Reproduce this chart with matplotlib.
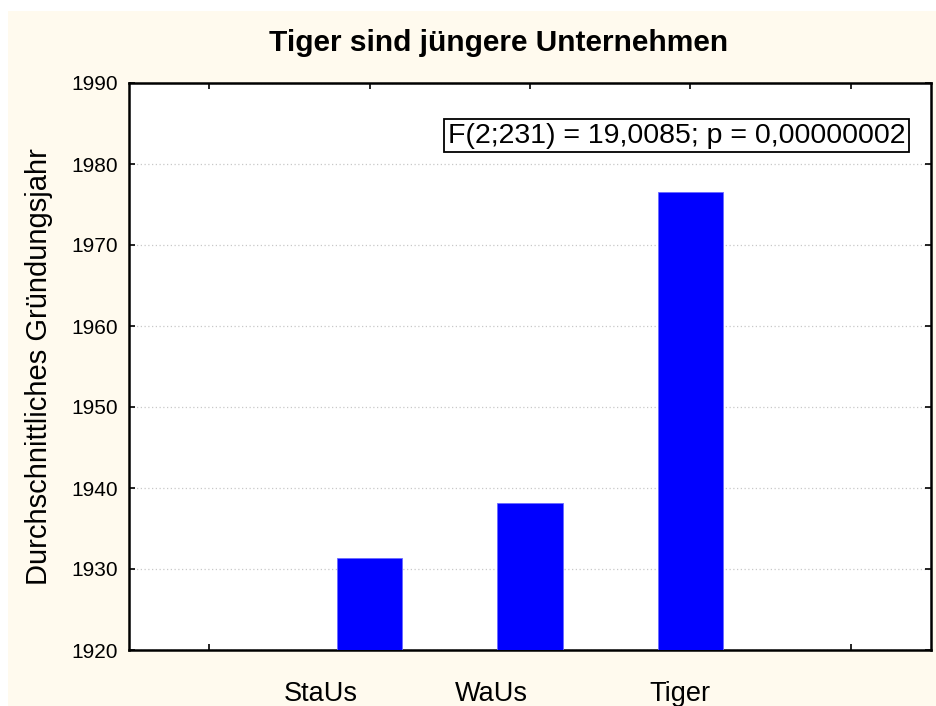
import matplotlib
matplotlib.use('Agg')
import matplotlib.pyplot as plt
import matplotlib.transforms as mtransforms
from matplotlib.patches import Rectangle

# data
groups = ['StaUs', 'WaUs', 'Tiger']
mean_year = [1931.4, 1938.2, 1976.5]
y_ticks = [1920, 1930, 1940, 1950, 1960, 1970, 1980, 1990]
stat_text = 'F(2;231) = 19,0085; p = 0,00000002'

plt.rcParams['font.family'] = ['Liberation Sans', 'DejaVu Sans']

fig = plt.figure(figsize=(9.36, 7.06), dpi=100, facecolor='white')
# cream panel behind everything
fig.patches.append(Rectangle((8 / 936, 0), 1, 1 - 11 / 706, transform=fig.transFigure,
                             facecolor='#fffaee', edgecolor='none', zorder=-10))

ax = fig.add_axes([129 / 936, 1 - 650 / 706, 802 / 936, 567 / 706])
ax.set_facecolor('white')

pos = list(range(1, len(groups) + 1))
ax.bar(pos, mean_year, width=0.41, bottom=0, color='#0000ff', edgecolor='#6a6aff',
       linewidth=0.6, zorder=3)

ax.set_xlim(-0.5, len(groups) + 1.5)
ax.set_ylim(y_ticks[0], y_ticks[-1])
ax.set_yticks(y_ticks)
ax.set_xticks(range(0, len(groups) + 2))
ax.set_xticklabels([''] + groups + [''])

ax.yaxis.grid(True, linestyle=(0, (1, 2)), color='#c8c8c8', linewidth=0.9, zorder=0)
ax.tick_params(direction='in', length=4, width=1.2, top=True, right=True,
               labelsize=15, colors='black')
ax.tick_params(axis='y', pad=8)
ax.tick_params(axis='x', pad=22, labelsize=19.5)

# statistica-style label placement (shifted left of the bar centres)
shifts = [0, -49, -39, -10, 0]
for lab, dx in zip(ax.get_xticklabels(), shifts):
    lab.set_transform(lab.get_transform() + mtransforms.ScaledTranslation(dx / 100, 0, fig.dpi_scale_trans))

for sp in ax.spines.values():
    sp.set_linewidth(1.8)
    sp.set_color('black')

ax.set_ylabel('Durchschnittliches Gründungsjahr', fontsize=21)
ax.yaxis.set_label_coords(-0.095, 0.5)

fig.text(499 / 936, 1 - 43 / 706, 'Tiger sind jüngere Unternehmen', ha='center', va='center',
         fontsize=21.5, fontweight='bold')

ax.text(0.968, 0.93, stat_text, transform=ax.transAxes, ha='right', va='top',
        fontsize=20.5, zorder=5,
        bbox=dict(boxstyle='square,pad=0.12', facecolor='white', edgecolor='black', linewidth=1.3))

fig.savefig('out.png', dpi=100, facecolor=fig.get_facecolor())
